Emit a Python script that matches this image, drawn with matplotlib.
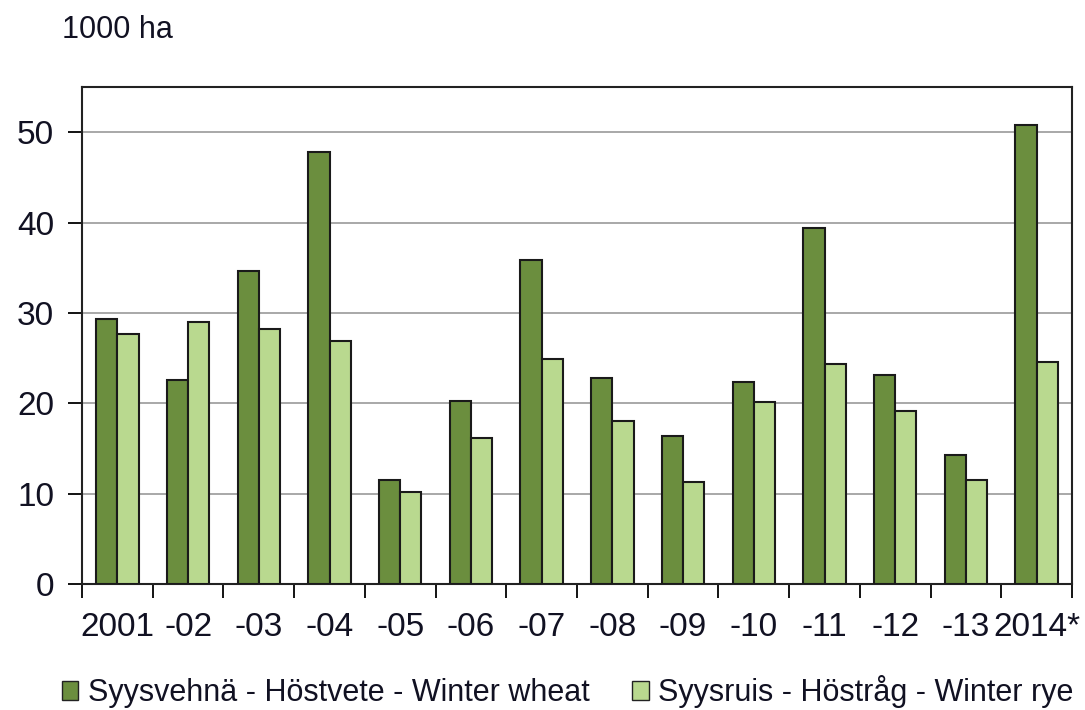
import matplotlib
matplotlib.use("Agg")
import matplotlib.pyplot as plt
import numpy as np
from matplotlib.patches import Patch

plt.rcParams['font.family'] = ['Liberation Sans', 'DejaVu Sans']

categories = ["2001", "-02", "-03", "-04", "-05", "-06", "-07", "-08", "-09", "-10", "-11", "-12", "-13", "2014*"]
wheat = [29.3, 22.6, 34.6, 47.8, 11.5, 20.2, 35.9, 22.8, 16.4, 22.4, 39.4, 23.1, 14.3, 50.8]
rye = [27.7, 29.0, 28.2, 26.9, 10.2, 16.2, 24.9, 18.0, 11.3, 20.1, 24.3, 19.2, 11.5, 24.6]
label_wheat = "Syysvehnä - Höstvete - Winter wheat"
label_rye = "Syysruis - Höstråg - Winter rye"
unit_label = "1000 ha"

c_wheat = "#6B8E3E"
c_rye = "#B9D98F"
txt = "#111122"

fig = plt.figure(figsize=(10.85, 7.10), dpi=100)
ax = fig.add_axes([82/1085, 1-584/710, (1072-82)/1085, (584-87)/710])

x = np.arange(len(categories))
w = 0.3
ax.bar(x - w/2, wheat, width=w, color=c_wheat, edgecolor="#1a1a1a", linewidth=1.5, zorder=3)
ax.bar(x + w/2, rye, width=w, color=c_rye, edgecolor="#1a1a1a", linewidth=1.5, zorder=3)

ax.set_xlim(-0.5, len(categories) - 0.5)
ax.set_ylim(0, 55)
ax.set_yticks([0, 10, 20, 30, 40, 50])
ax.yaxis.grid(True, color="#999999", linewidth=1.2, zorder=0)
ax.set_axisbelow(True)

ax.set_xticks(x)
ax.set_xticklabels(categories)
ax.set_xticks(np.arange(-0.5, len(categories)), minor=True)
ax.tick_params(axis='x', which='major', length=0, pad=20, labelsize=24, labelcolor=txt)
ax.tick_params(axis='x', which='minor', length=10, width=1.3, direction='out')
ax.tick_params(axis='y', length=10, width=1.3, direction='out', pad=10, labelsize=24, labelcolor=txt)

for s in ax.spines.values():
    s.set_linewidth(1.5)
    s.set_color("#222222")

fig.text(62/1085, 1-30/710, unit_label, fontsize=22, va='center', ha='left', color=txt)

handles = [Patch(facecolor=c_wheat, edgecolor="#222222", label=label_wheat),
           Patch(facecolor=c_rye, edgecolor="#222222", label=label_rye)]
fig.legend(handles=handles, loc='center', bbox_to_anchor=(0.523, 1-692/710), ncol=2,
           frameon=False, fontsize=22, handlelength=0.55, handleheight=0.55,
           handletextpad=0.3, columnspacing=1.4, borderaxespad=0, labelcolor=txt)

fig.savefig("out.png", dpi=100)
